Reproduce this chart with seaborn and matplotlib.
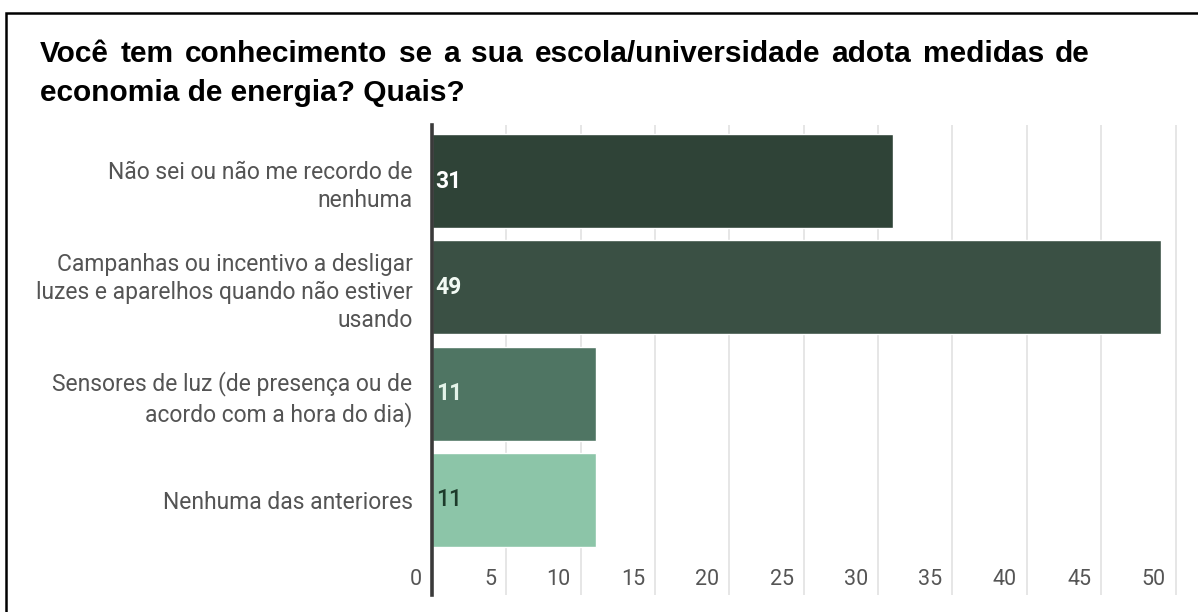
import matplotlib
matplotlib.use("Agg")
import matplotlib.pyplot as plt
import seaborn as sns
import pandas as pd
from matplotlib.patches import Rectangle
from matplotlib.transforms import offset_copy

# Survey answers and response counts
categories = [
    "Não sei ou não me recordo de\nnenhuma",
    "Campanhas ou incentivo a desligar\nluzes e aparelhos quando não estiver\nusando",
    "Sensores de luz (de presença ou de\nacordo com a hora do dia)",
    "Nenhuma das anteriores",
]
counts = [31, 49, 11, 11]
bar_colors = ["#2f4337", "#3a5044", "#4f7563", "#8cc5a8"]
value_colors = ["#ffffff", "#f2faf4", "#e4f3e9", "#1d3b2a"]
x_ticks = [0, 5, 10, 15, 20, 25, 30, 35, 40, 45, 50]
title_line1 = "Você tem conhecimento se a sua escola/universidade adota medidas de"
title_line2 = "economia de energia? Quais?"

W, H = 1198, 612
sns.set_theme(style="white")
plt.rcParams["font.family"] = ["Roboto", "DejaVu Sans"]

fig = plt.figure(figsize=(W / 100, H / 100), dpi=100)
fig.patch.set_facecolor("white")

ax_left, ax_right, ax_top, ax_bottom = 432, 1183, 125, 595
ax = fig.add_axes([ax_left / W, 1 - ax_bottom / H,
                   (ax_right - ax_left) / W, (ax_bottom - ax_top) / H])

df = pd.DataFrame({"answer": categories, "count": counts})
sns.barplot(data=df, y="answer", x="count", hue="answer", palette=bar_colors,
            legend=False, width=0.885, saturation=1, orient="h", ax=ax)

ax.set_xlim(0, 50.5)
ax.set_ylim(3.894, -0.527)
ax.set_xlabel("")
ax.set_ylabel("")

# vertical gridlines behind the bars
ax.set_xticks(x_ticks)
ax.set_axisbelow(True)
ax.grid(axis="x", color="#e2e2e2", linewidth=1.2)
ax.grid(axis="y", visible=False)
ax.tick_params(axis="x", length=0, labelbottom=False)

# category labels
ax.tick_params(axis="y", length=0, pad=14, labelsize=16.5, labelcolor="#545454")
for lbl in ax.get_yticklabels():
    lbl.set_linespacing(1.28)
    lbl.set_horizontalalignment("right")
    lbl.set_multialignment("right")

for side in ["top", "right", "bottom"]:
    ax.spines[side].set_visible(False)
ax.spines["left"].set_color("#3a3a3a")
ax.spines["left"].set_linewidth(2.6)

# x tick values drawn inside the plot area, left of each gridline
tick_tr = offset_copy(ax.transData, fig=fig, x=-10, y=0, units="dots")
for t in x_ticks:
    ax.text(t, 3.745, str(t), transform=tick_tr, ha="right", va="center",
            fontsize=15.5, color="#555555")

# value labels at the start of each bar
for i, (v, c) in enumerate(zip(counts, value_colors)):
    weight = "bold" if i < 3 else "medium"
    ax.text(0.25, i, str(v), ha="left", va="center", fontsize=16.5,
            fontweight=weight, color=c)

# justified two-line title
renderer = fig.canvas.get_renderer()
title_font = dict(family="Liberation Sans", fontweight="bold", fontsize=21.5,
                  color="black")
words = title_line1.split(" ")
left_px, right_px, base1 = 40, 1090, 62
items = [fig.text(0, 1 - base1 / H, w, ha="left", va="baseline", **title_font)
         for w in words]
widths = [it.get_window_extent(renderer).width for it in items]
gap = (right_px - left_px - sum(widths)) / (len(words) - 1)
x = left_px
for it, w in zip(items, widths):
    it.set_x(x / W)
    x += w + gap
fig.text(left_px / W, 1 - 101 / H, title_line2, ha="left", va="baseline",
         **title_font)

# outer frame
fig.add_artist(Rectangle((5.5 / W, -0.2), 1.5, 1.2 - 12.5 / H,
                         transform=fig.transFigure, fill=False,
                         edgecolor="black", linewidth=1.8))

fig.savefig("out.png", dpi=100, facecolor="white")
